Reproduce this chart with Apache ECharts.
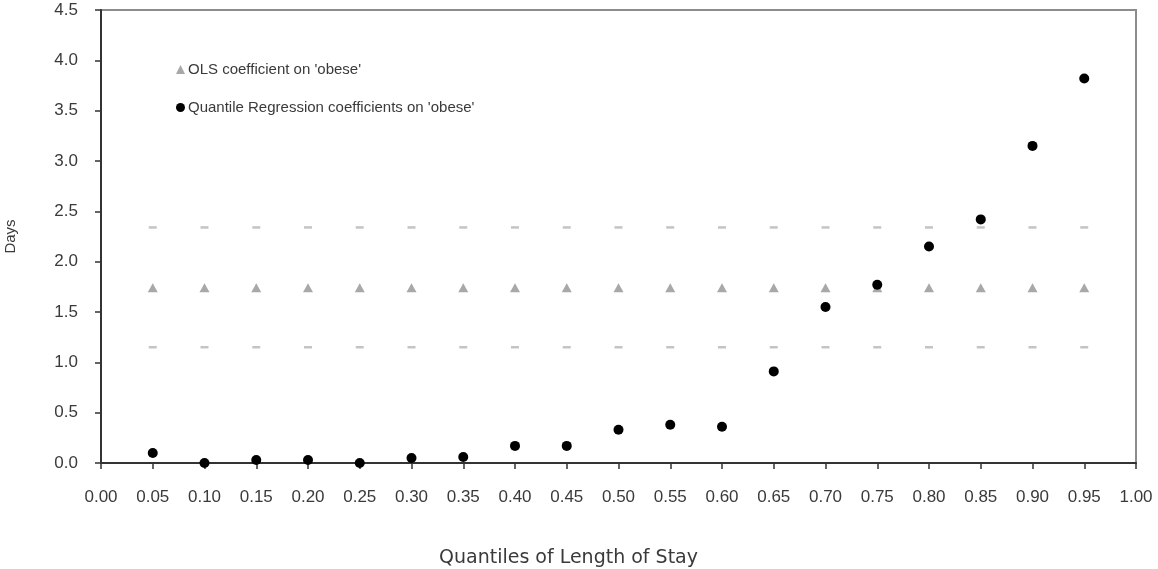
<!DOCTYPE html>
<html>
<head>
<meta charset="utf-8">
<style>
  html, body { margin: 0; padding: 0; background: #fff; }
  #chart { width: 1158px; height: 569px; }
</style>
<script src="https://cdn.jsdelivr.net/npm/echarts@6/dist/echarts.min.js"></script>
</head>
<body>
<div id="chart"></div>
<script>
// Quantiles of length of stay
const quantiles = [0.05, 0.10, 0.15, 0.20, 0.25, 0.30, 0.35, 0.40, 0.45, 0.50,
                   0.55, 0.60, 0.65, 0.70, 0.75, 0.80, 0.85, 0.90, 0.95];
// Quantile regression coefficients on 'obese' (days)
const qrCoef = [0.10, 0.00, 0.03, 0.03, 0.00, 0.05, 0.06, 0.17, 0.17, 0.33,
                0.38, 0.36, 0.91, 1.55, 1.77, 2.15, 2.42, 3.15, 3.82];
// OLS coefficient and its confidence bounds (constant across quantiles)
const olsCoef = 1.74;
const olsUpper = 2.34;
const olsLower = 1.15;
// Axis ranges and tick steps
const yMin = 0, yMax = 4.5, yStep = 0.5;
const xMin = 0, xMax = 1.0, xStep = 0.05;

const titleFont = 'DejaVu Sans, Liberation Sans, sans-serif';
const plainFont = 'Liberation Sans, Arial, sans-serif';
const textColor = '#3a3a3a';

const pairs = (vals) => quantiles.map((q, i) => [q, Array.isArray(vals) ? vals[i] : vals]);

const chart = echarts.init(document.getElementById('chart'));
chart.setOption({
  animation: false,
  backgroundColor: '#fff',
  grid: {
    left: 101, right: 22, top: 10, bottom: 106,
    outerBoundsMode: 'none',
    show: true, borderColor: '#8c8c8c', borderWidth: 2, backgroundColor: 'transparent'
  },
  legend: {
    left: 171, top: 57, orient: 'vertical', itemGap: 23,
    itemWidth: 9, itemHeight: 9,
    textStyle: { fontFamily: plainFont, fontSize: 15, color: textColor, padding: [0, 0, 0, -2] },
    data: [
      { name: "OLS coefficient on 'obese'", icon: 'triangle', itemStyle: { color: '#a8a8a8', opacity: 1 } },
      { name: "Quantile Regression coefficients on 'obese'", icon: 'circle', itemStyle: { color: '#000', opacity: 1 } }
    ],
    selectedMode: false
  },
  xAxis: {
    type: 'value', min: xMin, max: xMax, interval: xStep,
    name: 'Quantiles of Length of Stay', nameLocation: 'middle', nameGap: 86,
    nameTextStyle: { fontFamily: titleFont, fontSize: 19, color: textColor, padding: [0, 100, 0, 0] },
    axisLine: { show: true, onZero: false, lineStyle: { color: '#333', width: 2 } },
    axisTick: { show: true, length: 6, inside: false, lineStyle: { color: '#333', width: 1.5 } },
    axisLabel: { fontFamily: plainFont, fontSize: 17, color: textColor, margin: 26,
                 formatter: v => v.toFixed(2) },
    splitLine: { show: false }
  },
  yAxis: {
    type: 'value', min: yMin, max: yMax, interval: yStep,
    name: 'Days', nameLocation: 'middle', nameGap: 83, nameRotate: 90,
    nameTextStyle: { fontFamily: plainFont, fontSize: 15, color: textColor },
    axisLine: { show: true, lineStyle: { color: '#333', width: 2 } },
    axisTick: { show: true, length: 6, lineStyle: { color: '#333', width: 1.5 } },
    axisLabel: { fontFamily: plainFont, fontSize: 17, color: textColor, margin: 23,
                 formatter: v => v.toFixed(1) },
    splitLine: { show: false }
  },
  series: [
    {
      name: 'OLS upper bound', type: 'scatter', data: pairs(olsUpper),
      symbol: 'rect', symbolSize: [8, 2.5], itemStyle: { color: '#c4c4c4', opacity: 1 }, silent: true
    },
    {
      name: 'OLS lower bound', type: 'scatter', data: pairs(olsLower),
      symbol: 'rect', symbolSize: [8, 2.5], itemStyle: { color: '#c4c4c4', opacity: 1 }, silent: true
    },
    {
      name: "OLS coefficient on 'obese'", type: 'scatter', data: pairs(olsCoef),
      symbol: 'triangle', symbolSize: [10, 9], itemStyle: { color: '#a8a8a8', opacity: 1 }
    },
    {
      name: "Quantile Regression coefficients on 'obese'", type: 'scatter', data: pairs(qrCoef),
      symbol: 'circle', symbolSize: 10, itemStyle: { color: '#000', opacity: 1 }
    }
  ]
});
</script>
</body>
</html>
